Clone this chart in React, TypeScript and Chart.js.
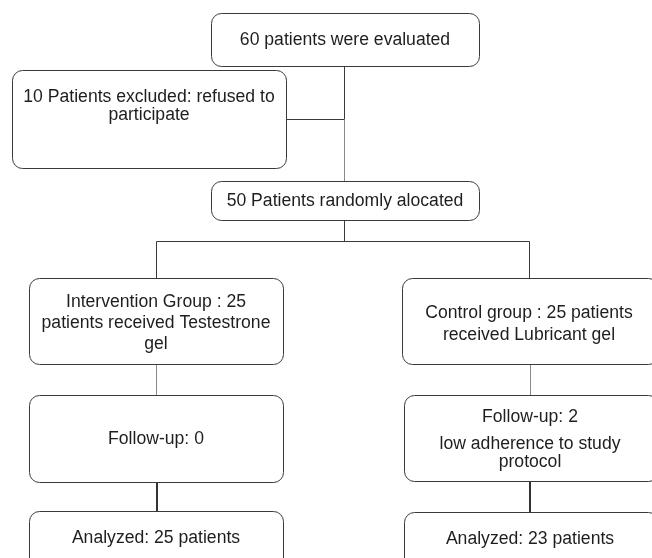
import React, { useEffect, useRef } from "react";
import { Chart, registerables } from "chart.js";

Chart.register(...registerables);

// Flowchart nodes (content)
const boxLabels: string[][] = [
  ["60 patients were evaluated"],
  ["10 Patients excluded: refused to", "participate"],
  ["50 Patients randomly alocated"],
  ["Intervention Group : 25", "patients received Testestrone", "gel"],
  ["Control group : 25 patients", "received Lubricant gel"],
  ["Follow-up: 0"],
  ["Follow-up: 2", "low adherence to study", "protocol"],
  ["Analyzed: 25 patients"],
  ["Analyzed: 23 patients"],
];

// Node extents in diagram units (x: 0..652, y: 0..558 top-down)
const boxLeft = [211, 12, 211, 29, 402, 29, 404, 29, 404];
const boxRight = [479, 286, 479, 283, 658, 283, 658, 283, 658];
const boxTop = [13, 70, 181, 278, 278, 395, 395, 511, 512];
const boxBottom = [66, 168, 220, 364, 364, 482, 481, 572, 572];
// Baselines of each text line
const textBaselines: number[][] = [
  [45],
  [102, 120],
  [206],
  [307, 328, 349],
  [318, 340],
  [444],
  [422, 449, 467],
  [543],
  [544],
];
const textCenterX = [345, 149, 345, 156, 529, 156, 530, 156, 530];

// Connectors: [x1, y1, x2, y2, kind] kind 0 = dark thin, 1 = grey thin, 2 = dark thick
const connX1 = [344, 286, 344, 344, 156, 156, 529, 156, 530, 157, 530];
const connY1 = [66, 119, 119, 220, 241, 241, 241, 364, 364, 482, 481];
const connX2 = [344, 344, 344, 344, 529, 156, 529, 156, 530, 157, 530];
const connY2 = [119, 119, 181, 241, 241, 278, 278, 395, 395, 511, 512];
const connKind = [0, 0, 1, 0, 0, 0, 0, 1, 1, 2, 2];

const flowPlugin = {
  id: "flowchart",
  afterDatasetsDraw(chart: any) {
    const ctx = chart.ctx as CanvasRenderingContext2D;
    const xs = chart.scales.x;
    const ys = chart.scales.y;
    const px = (v: number) => xs.getPixelForValue(v);
    const py = (v: number) => ys.getPixelForValue(v);
    ctx.save();
    // connectors
    for (let i = 0; i < connX1.length; i++) {
      const k = connKind[i];
      ctx.beginPath();
      ctx.lineWidth = k === 2 ? 2 : 1;
      ctx.strokeStyle = k === 1 ? "#8a8a8a" : k === 2 ? "#333333" : "#3a3a3a";
      const off = k === 2 ? 0 : 0.5;
      ctx.moveTo(Math.round(px(connX1[i])) + off, Math.round(py(connY1[i])) + off);
      ctx.lineTo(Math.round(px(connX2[i])) + off, Math.round(py(connY2[i])) + off);
      ctx.stroke();
    }
    // boxes
    for (let i = 0; i < boxLabels.length; i++) {
      const l = Math.round(px(boxLeft[i])) + 0.5;
      const r = Math.round(px(boxRight[i])) + 0.5;
      const t = Math.round(py(boxTop[i])) + 0.5;
      const b = Math.round(py(boxBottom[i])) + 0.5;
      ctx.beginPath();
      ctx.fillStyle = "#ffffff";
      ctx.strokeStyle = "#3a3a3a";
      ctx.lineWidth = 1;
      (ctx as any).roundRect(l, t, r - l, b - t, 10);
      ctx.fill();
      ctx.stroke();
      ctx.fillStyle = "#1e1e1e";
      ctx.font = '17.6px "Liberation Sans", Arial, sans-serif';
      ctx.textAlign = "center";
      ctx.textBaseline = "alphabetic";
      const lines = boxLabels[i];
      for (let j = 0; j < lines.length; j++) {
        ctx.fillText(lines[j], px(textCenterX[i]), py(textBaselines[i][j]));
      }
    }
    ctx.restore();
  },
};

export default function App() {
  const ref = useRef<HTMLCanvasElement | null>(null);
  useEffect(() => {
    if (!ref.current) return;
    const chart = new Chart(ref.current, {
      type: "scatter",
      data: {
        datasets: [
          {
            label: "nodes",
            data: boxLabels.map((_, i) => ({
              x: (boxLeft[i] + boxRight[i]) / 2,
              y: (boxTop[i] + boxBottom[i]) / 2,
            })),
            pointRadius: 0,
          },
        ],
      },
      options: {
        responsive: false,
        animation: false,
        layout: { padding: 0 },
        plugins: { legend: { display: false }, tooltip: { enabled: false } },
        scales: {
          x: { type: "linear", min: 0, max: 652, display: false },
          y: { type: "linear", min: 0, max: 558, reverse: true, display: false },
        },
      },
      plugins: [flowPlugin],
    });
    return () => chart.destroy();
  }, []);
  return (
    <div style={{ position: "absolute", left: 0, top: 0, width: 652, height: 558, background: "#fff" }}>
      <canvas ref={ref} width={652} height={558} style={{ display: "block" }} />
    </div>
  );
}
